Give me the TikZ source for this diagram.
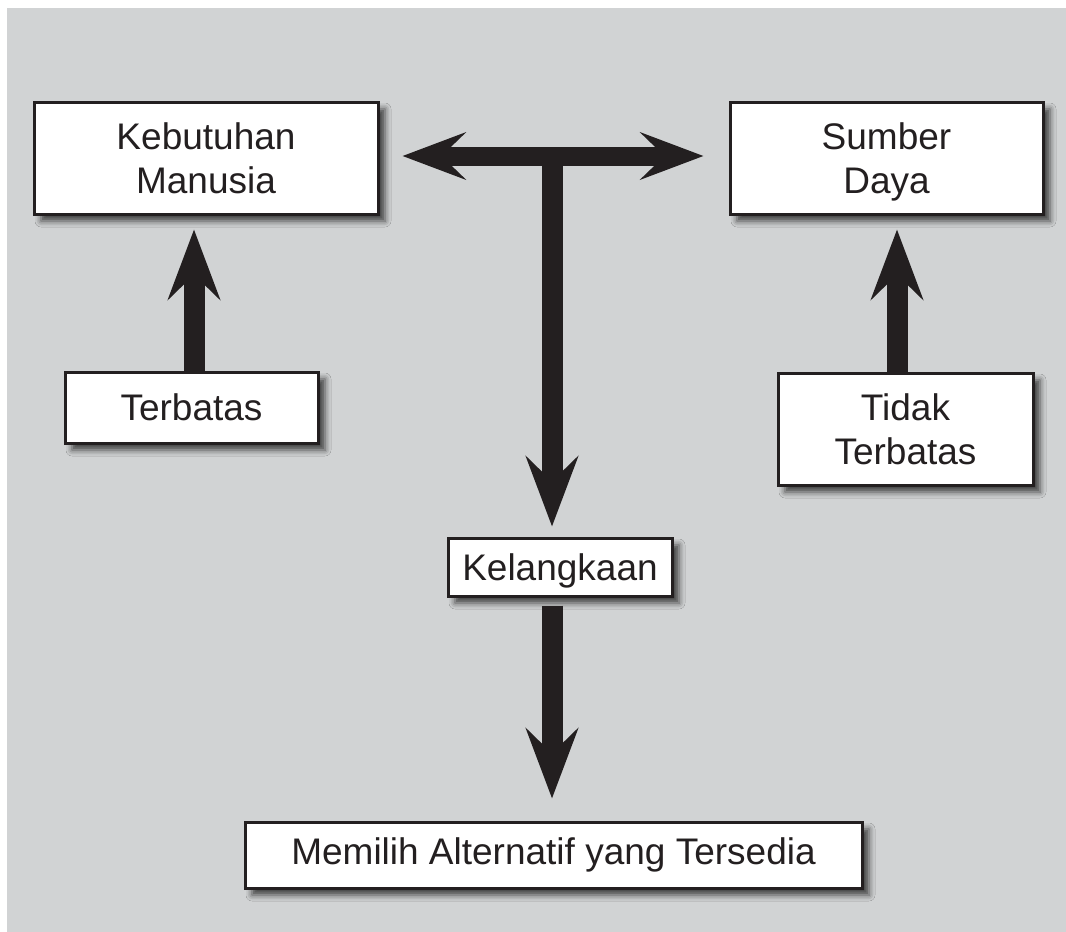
\documentclass[tikz,border=0pt]{standalone}
\usepackage{fontspec}
\setmainfont{Liberation Sans}
\usetikzlibrary{arrows.meta,shadows.blur,calc}
\definecolor{bggray}{HTML}{D1D3D4}
\definecolor{ink}{HTML}{231F20}
\tikzset{
  box/.style={draw=ink, line width=3pt, fill=white, align=center, inner sep=0pt,
    font=\fontsize{37}{44}\selectfont, text=ink,
    blur shadow={shadow xshift=7pt, shadow yshift=-7pt, shadow blur radius=6pt, shadow opacity=70}},
  fat/.style={draw=ink, line width=21pt},
  fathead/.style={-{Stealth[length=70pt, width=52pt, inset=25pt, color=ink]}},
  fatheadh/.style={{Stealth[length=63pt, width=47pt, inset=24pt, color=ink]}-{Stealth[length=63pt, width=47pt, inset=24pt, color=ink]}},
}
\begin{document}
\begin{tikzpicture}[x=1pt,y=-1pt]
\useasboundingbox (0,0) rectangle (1066,932);
\fill[white] (0,0) rectangle (1066,932);
\fill[bggray] (7,8) rectangle (1066,932);

\node[box, minimum width=344pt, minimum height=112pt] (keb) at (206,158) {Kebutuhan\\Manusia};
\node[box, minimum width=313pt, minimum height=112pt] (sum) at (886.5,158) {Sumber\\\smash{Daya}};
\node[box, minimum width=253pt, minimum height=71pt] (ter) at (191.5,407.5) {Terbatas};
\node[box, minimum width=255pt, minimum height=112pt] (tid) at (905.5,429) {Tidak\\Terbatas};
\node[box, minimum width=224pt, minimum height=58pt] (kel) at (560,567) {\rule{0pt}{34pt}Kelangkaan};
\node[box, minimum width=617pt, minimum height=66pt] (mem) at (553.5,855) {Memilih Alternatif yang Tersedia};

\coordinate (j) at (552,156);
\coordinate (lt) at ($(keb.east)+(23pt,0)$);
\coordinate (rt) at ($(sum.west)+(-25pt,0)$);

% T-shaped connector
\draw[fat, fathead] ($(j)+(0,-9pt)$) -- ([yshift=10pt]kel.north -| j);
\draw[fat, line width=19pt, fatheadh] (lt |- j) -- (rt |- j);

% up arrows
\coordinate (ka) at (194,372);
\coordinate (sa) at (897,373);
\draw[fat, fathead] (ka) -- ([yshift=-14pt]keb.south -| ka);
\draw[fat, fathead] (sa) -- ([yshift=-14pt]sum.south -| sa);

% down arrow
\draw[fat, fathead] ([yshift=-8pt]kel.south -| j) -- ([yshift=22pt]mem.north -| j);
\end{tikzpicture}
\end{document}
